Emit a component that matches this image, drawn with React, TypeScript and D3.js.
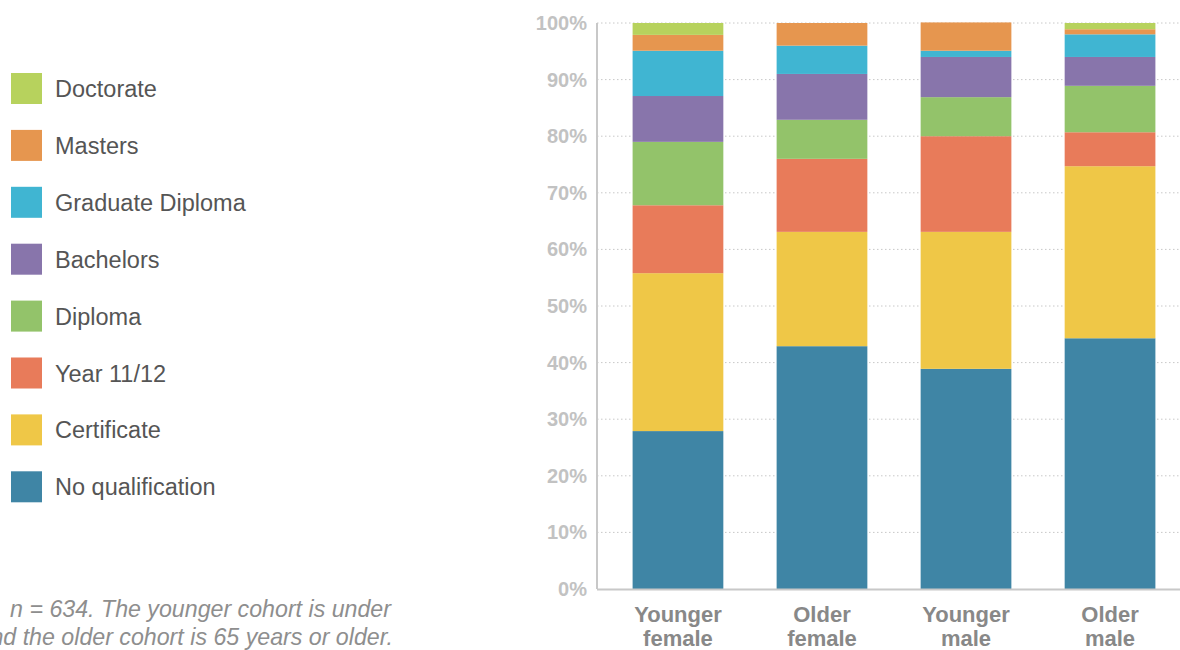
import React from "react";
import * as d3 from "d3";

const categories = ["Younger female", "Older female", "Younger male", "Older male"];
const seriesNames = [
  "No qualification",
  "Certificate",
  "Year 11/12",
  "Diploma",
  "Bachelors",
  "Graduate Diploma",
  "Masters",
  "Doctorate",
];
const noQualification = [27.9, 42.9, 38.9, 44.3];
const certificate = [27.9, 20.2, 24.2, 30.4];
const year1112 = [12.0, 12.9, 16.9, 6.0];
const diploma = [11.2, 6.9, 6.9, 8.2];
const bachelors = [8.1, 8.1, 7.1, 5.1];
const graduateDiploma = [8.0, 5.0, 1.1, 4.0];
const masters = [2.8, 4.0, 5.0, 0.9];
const doctorate = [2.1, 0, 0, 1.1];
const yTicks = [0, 10, 20, 30, 40, 50, 60, 70, 80, 90, 100];
const colors = ["#3f85a5", "#efc747", "#e87b5a", "#93c36a", "#8875ab", "#40b5d2", "#e6964f", "#b7d25d"];

const allSeries = [noQualification, certificate, year1112, diploma, bachelors, graduateDiploma, masters, doctorate];

export default function App() {
  const W = 1180;
  const H = 650;
  const x = d3.scaleBand<string>().domain(categories).range([611, 1177]).paddingInner(0.37).paddingOuter(0.15);
  const y = d3.scaleLinear().domain([0, 100]).range([589, 23]);

  const table = categories.map((c, i) => {
    const row: any = { cat: c };
    seriesNames.forEach((s, j) => (row[s] = allSeries[j][i]));
    return row;
  });
  const stacked = d3.stack<any>().keys(seriesNames)(table);
  const axisX = 597;
  const legendOrder = seriesNames.map((s, i) => ({ name: s, color: colors[i] })).reverse();

  return (
    <div style={{ position: "absolute", left: 0, top: 0 }}>
      <svg width={W} height={H} style={{ display: "block" }} fontFamily="'Liberation Sans', Arial, sans-serif">
        {yTicks.map((t) => (
          <g key={t}>
            {t > 0 && (
              <line x1={axisX} x2={W} y1={y(t)} y2={y(t)} stroke="#c8c8c8" strokeWidth={1} strokeDasharray="1.5,2.5" />
            )}
            <text x={587} y={y(t) + 7} textAnchor="end" fontSize={20} fontWeight="bold" fill="#c2c2c2">
              {t}%
            </text>
          </g>
        ))}
        {stacked.map((layer, j) => (
          <g key={layer.key} fill={colors[j]}>
            {layer.map((d, i) => {
              const h = y(d[0]) - y(d[1]);
              if (h <= 0) return null;
              return <rect key={i} x={x(categories[i])} y={y(d[1])} width={x.bandwidth()} height={h} />;
            })}
          </g>
        ))}
        <line x1={axisX} x2={axisX} y1={y(100)} y2={y(0)} stroke="#c8c8c8" strokeWidth={2} />
        <line x1={axisX} x2={W} y1={y(0) + 0.5} y2={y(0) + 0.5} stroke="#c8c8c8" strokeWidth={2} />
        {categories.map((c) => {
          const parts = c.split(" ");
          const cx = (x(c) as number) + x.bandwidth() / 2;
          return (
            <text key={c} x={cx} textAnchor="middle" fontSize={22} fontWeight="bold" fill="#888888">
              <tspan x={cx} y={622}>{parts[0]}</tspan>
              <tspan x={cx} y={646}>{parts[1]}</tspan>
            </text>
          );
        })}
        {legendOrder.map((l, i) => (
          <g key={l.name} transform={`translate(11, ${73 + i * 56.9})`}>
            <rect x={0} y={0} width={31} height={31} fill={l.color} />
            <text x={44} y={24} fontSize={23.5} fill="#555555">
              {l.name}
            </text>
          </g>
        ))}
        <text x={391} y={617} textAnchor="end" fontSize={23.2} fontStyle="italic" fill="#8e8e8e">
          n = 634. The younger cohort is under
        </text>
        <text x={393} y={645} textAnchor="end" fontSize={23.2} fontStyle="italic" fill="#8e8e8e">
          and the older cohort is 65 years or older.
        </text>
      </svg>
    </div>
  );
}
